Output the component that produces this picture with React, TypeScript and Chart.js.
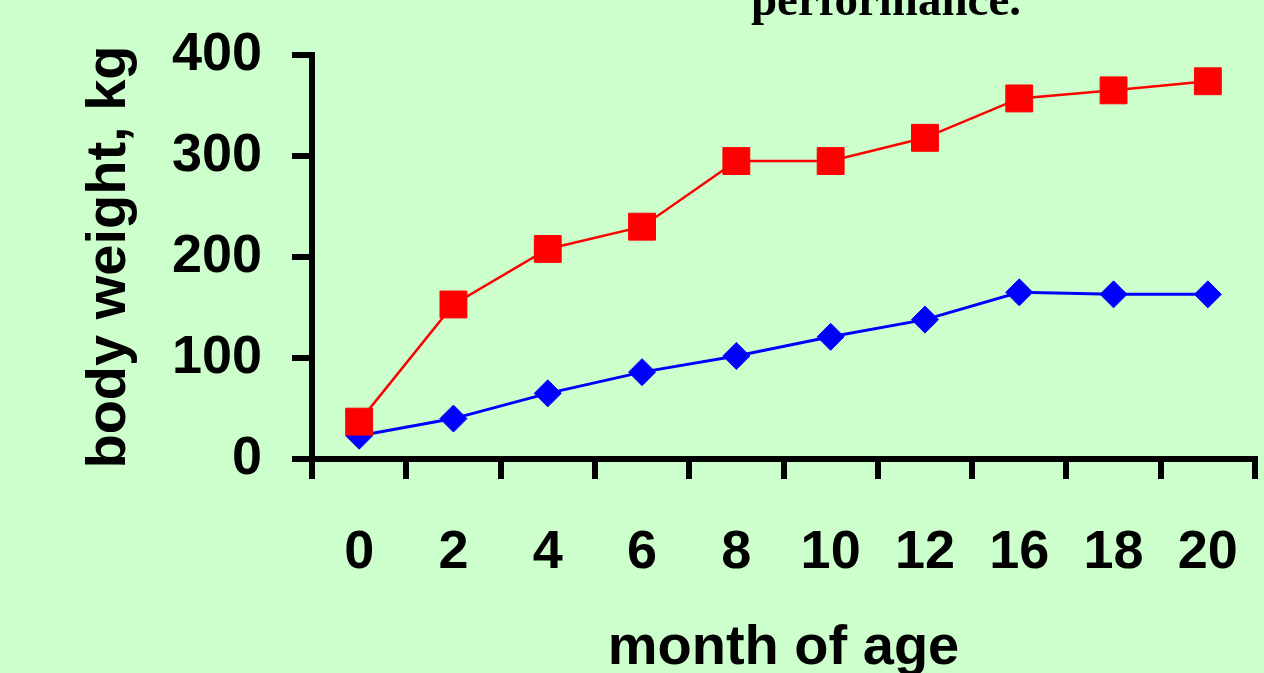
import React, { useEffect, useRef } from "react";
import { Chart, registerables } from "chart.js";

Chart.register(...registerables);

const months = ["0", "2", "4", "6", "8", "10", "12", "16", "18", "20"];
const redSeries = [37, 153, 208, 230, 295, 295, 318, 357, 365, 374];
const blueSeries = [23, 40, 65, 86, 102, 121, 138, 165, 163, 163];
const yTicks = [0, 100, 200, 300, 400];
const titleText = "performance.";
const yTitle = "body weight, kg";
const xTitle = "month of age";

const topTitlePlugin = {
  id: "topTitle",
  afterDraw(chart: any) {
    const ctx = chart.ctx;
    ctx.save();
    ctx.font = "bold 47px 'Liberation Serif'";
    ctx.fillStyle = "#000000";
    ctx.textAlign = "center";
    ctx.textBaseline = "alphabetic";
    ctx.fillText(titleText, 886, 15);
    ctx.restore();
  },
};

export default function App() {
  const ref = useRef<HTMLCanvasElement | null>(null);

  useEffect(() => {
    if (!ref.current) return;
    const tickFont = { family: "'Liberation Sans', Arial, sans-serif", size: 54, weight: "bold" as const };
    const titleFont = { family: "'Liberation Sans', Arial, sans-serif", size: 56, weight: "bold" as const, lineHeight: 1 };
    const chart = new Chart(ref.current, {
      type: "line",
      data: {
        labels: months,
        datasets: [
          {
            data: redSeries,
            borderColor: "#FF0000",
            backgroundColor: "#FF0000",
            borderWidth: 2.5,
            pointStyle: "rect",
            pointRadius: 19,
            pointBorderWidth: 1,
            pointBorderColor: "#FF0000",
            pointBackgroundColor: "#FF0000",
            tension: 0,
          },
          {
            data: blueSeries,
            borderColor: "#0000FF",
            backgroundColor: "#0000FF",
            borderWidth: 3,
            pointStyle: "rectRot",
            pointRadius: 13.5,
            pointBorderWidth: 1,
            pointBorderColor: "#0000FF",
            pointBackgroundColor: "#0000FF",
            tension: 0,
          },
        ],
      },
      options: {
        animation: false,
        responsive: false,
        maintainAspectRatio: false,
        layout: { autoPadding: false, padding: { top: 55, right: 9, left: 0, bottom: 0 } },
        plugins: {
          legend: { display: false },
          tooltip: { enabled: false },
          title: { display: false },
        },
        scales: {
          x: {
            type: "category",
            offset: true,
            afterFit: (scale: any) => {
              scale.height = 214;
              scale.paddingLeft = 0;
              scale.paddingRight = 0;
            },
            grid: {
              offset: true,
              drawOnChartArea: false,
              drawTicks: true,
              tickLength: 20,
              lineWidth: 6,
              color: "#000000",
            },
            border: { display: true, width: 6, color: "#000000" },
            ticks: {
              color: "#000000",
              font: tickFont,
              padding: 42,
              maxRotation: 0,
              autoSkip: false,
            },
            title: {
              display: true,
              text: xTitle,
              color: "#000000",
              font: titleFont,
              padding: { top: 0, bottom: -4 },
            },
          },
          y: {
            min: 0,
            max: 400,
            afterFit: (scale: any) => {
              scale.width = 312;
              scale.paddingTop = 0;
              scale.paddingBottom = 0;
            },
            afterBuildTicks: (scale: any) => {
              scale.ticks = yTicks.map((v) => ({ value: v }));
            },
            grid: {
              drawOnChartArea: false,
              drawTicks: true,
              tickLength: 20,
              lineWidth: 6,
              color: "#000000",
            },
            border: { display: true, width: 6, color: "#000000" },
            ticks: {
              color: "#000000",
              font: tickFont,
              padding: 30,
            },
            title: {
              display: true,
              text: yTitle,
              color: "#000000",
              font: titleFont,
              padding: { top: 82, bottom: 0 },
            },
          },
        },
      },
      plugins: [topTitlePlugin],
    });
    return () => chart.destroy();
  }, []);

  return (
    <div
      style={{
        position: "absolute",
        left: 0,
        top: 0,
        width: 1264,
        height: 673,
        background: "#CCFFCC",
        overflow: "hidden",
      }}
    >
      <canvas ref={ref} width={1264} height={673} style={{ display: "block", width: 1264, height: 673 }} />
    </div>
  );
}
